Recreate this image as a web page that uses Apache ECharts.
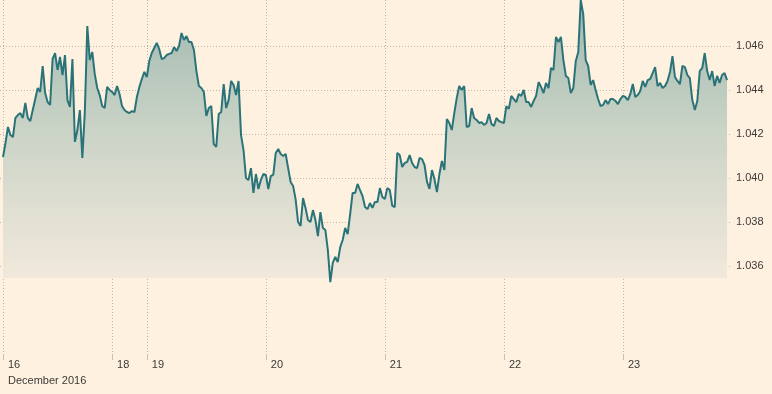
<!DOCTYPE html>
<html><head><meta charset="utf-8">
<script src="https://cdn.jsdelivr.net/npm/echarts@6/dist/echarts.min.js"></script>
<style>html,body{margin:0;padding:0;background:#fff1e0;}#c{width:772px;height:394px;}</style>
</head><body><div id="c"></div>
<script>
// Half-hourly values (trading time only; weekend removed)
const dec16 = [1.04095,1.04159,1.04232,1.04195,1.04186,1.04273,1.04286,1.04295,1.04273,1.04341,1.04273,1.04259,1.04309,1.04359,1.04409,1.04391,1.04509,1.04386,1.04345,1.04332,1.04541,1.04568,1.04491,1.04550,1.04468,1.04559,1.04354,1.04323,1.04541,1.04164,1.04218,1.04309,1.04091,1.04300,1.04691,1.04536,1.04573,1.04473,1.04409,1.04377,1.04327,1.04318,1.04414,1.04400];
const dec18 = [1.04391,1.04377,1.04418,1.04382,1.04327,1.04309,1.04300,1.04295,1.04304,1.04300,1.04368,1.04414,1.04450,1.04482];
const dec19 = [1.04459,1.04532,1.04568,1.04591,1.04614,1.04586,1.04541,1.04545,1.04559,1.04564,1.04568,1.04595,1.04577,1.04600,1.04659,1.04627,1.04645,1.04618,1.04618,1.04582,1.04486,1.04418,1.04409,1.04391,1.04282,1.04318,1.04327,1.04154,1.04141,1.04291,1.04300,1.04427,1.04318,1.04354,1.04441,1.04423,1.04377,1.04441,1.04195,1.04127,1.04000,1.03991,1.04045,1.03932,1.04018,1.03950,1.03991,1.04018];
const dec20 = [1.04014,1.03950,1.04009,1.04014,1.04114,1.04132,1.04109,1.04100,1.04109,1.04045,1.03982,1.03964,1.03904,1.03800,1.03782,1.03909,1.03864,1.03809,1.03800,1.03854,1.03809,1.03736,1.03845,1.03773,1.03764,1.03673,1.03527,1.03614,1.03641,1.03618,1.03686,1.03718,1.03773,1.03745,1.03836,1.03932,1.03932,1.03973,1.03945,1.03918,1.03868,1.03859,1.03886,1.03864,1.03891,1.03891,1.03954,1.03914];
const dec21 = [1.03904,1.03954,1.03945,1.03873,1.03868,1.04114,1.04104,1.04050,1.04068,1.04073,1.04104,1.04068,1.04050,1.04045,1.04091,1.04086,1.04059,1.03982,1.03950,1.04036,1.03995,1.03936,1.04018,1.04077,1.04036,1.04268,1.04250,1.04218,1.04295,1.04364,1.04418,1.04400,1.04418,1.04232,1.04236,1.04318,1.04273,1.04264,1.04250,1.04254,1.04241,1.04250,1.04291,1.04245,1.04236,1.04273,1.04259,1.04254];
const dec22 = [1.04250,1.04327,1.04314,1.04373,1.04359,1.04345,1.04382,1.04373,1.04400,1.04345,1.04345,1.04323,1.04350,1.04373,1.04436,1.04414,1.04386,1.04432,1.04409,1.04500,1.04491,1.04641,1.04618,1.04641,1.04536,1.04464,1.04454,1.04386,1.04409,1.04532,1.04573,1.04809,1.04745,1.04536,1.04509,1.04423,1.04445,1.04400,1.04359,1.04327,1.04332,1.04354,1.04336,1.04359,1.04359,1.04350,1.04336,1.04359];
const dec23 = [1.04373,1.04368,1.04354,1.04382,1.04427,1.04368,1.04377,1.04395,1.04441,1.04414,1.04445,1.04450,1.04477,1.04504,1.04418,1.04432,1.04409,1.04418,1.04441,1.04482,1.04554,1.04459,1.04441,1.04427,1.04509,1.04504,1.04468,1.04454,1.04354,1.04309,1.04350,1.04486,1.04500,1.04568,1.04486,1.04445,1.04486,1.04418,1.04464,1.04432,1.04468,1.04477,1.04445];

const dayLabels = ['16','18','19','20','21','22','23'];
const dayStartHours = [0, 17, 0, 0, 0, 0, 0];
const monthLabel = 'December 2016';
const yTicks = [1.036, 1.038, 1.040, 1.042, 1.044, 1.046];

const days = [dec16, dec18, dec19, dec20, dec21, dec22, dec23];
const categories = [];
const values = [];
const dayStartIdx = {};
days.forEach((arr, d) => {
  dayStartIdx[categories.length] = dayLabels[d];
  arr.forEach((v, k) => {
    const mins = dayStartHours[d] * 60 + k * 30;
    const hh = String(Math.floor(mins / 60)).padStart(2, '0');
    const mm = String(mins % 60).padStart(2, '0');
    categories.push(dayLabels[d] + ' ' + hh + ':' + mm);
    values.push(v);
  });
});
categories.push('', '');
const isDayStart = (i) => dayStartIdx.hasOwnProperty(i);

const chart = echarts.init(document.getElementById('c'), null, {renderer: 'canvas'});
const font = 'Liberation Sans, Arial, sans-serif';
chart.setOption({
  backgroundColor: '#fff1e0',
  animation: false,
  grid: [
    {left: 2, right: 40, top: 0, bottom: 40},
    {left: 0, right: 42, top: 46, bottom: 128}
  ],
  xAxis: [
    {
      type: 'category', gridIndex: 0, data: categories, boundaryGap: false,
      axisLine: {show: false},
      axisTick: {show: true, interval: (i) => isDayStart(i), length: 6, lineStyle: {color: '#c9c1b7', width: 1}},
      splitLine: {show: true, interval: (i) => isDayStart(i), lineStyle: {color: '#bfb7ad', type: [1, 2], width: 1}},
      axisLabel: {
        interval: (i) => isDayStart(i),
        formatter: (val, i) => i === 0 ? dayStartIdx[i] + '\n' + monthLabel : (dayStartIdx[i] || ''),
        align: 'left', padding: [0, 0, 0, 5], margin: 3, lineHeight: 16,
        color: '#3c3a37', fontSize: 11, fontFamily: font
      }
    },
    {type: 'value', gridIndex: 1, show: false, min: 0, max: 1}
  ],
  yAxis: [
    {type: 'value', gridIndex: 0, show: false, min: 1.032, max: 1.04809, splitLine: {show: false}},
    {
      type: 'value', gridIndex: 1, position: 'right', min: yTicks[0], max: yTicks[yTicks.length - 1], interval: 0.002,
      axisLine: {show: false}, axisTick: {show: false},
      splitLine: {show: true, lineStyle: {color: '#bfb7ad', type: [1, 2], width: 1}},
      axisLabel: {margin: 6, color: '#3c3a37', fontSize: 11, fontFamily: font,
        formatter: (v) => v.toFixed(3)}
    }
  ],
  series: [{
    type: 'line', xAxisIndex: 0, yAxisIndex: 0, data: values,
    showSymbol: false, clip: false,
    lineStyle: {color: '#2a7479', width: 2},
    areaStyle: {
      origin: 1.03545,
      opacity: 1,
      color: new echarts.graphic.LinearGradient(0, 0, 0, 1, [
        {offset: 0, color: '#a0b8b0'},
        {offset: 0.45, color: '#c9d3c6'},
        {offset: 1, color: '#f2e9dc'}
      ])
    }
  }]
});
</script></body></html>
